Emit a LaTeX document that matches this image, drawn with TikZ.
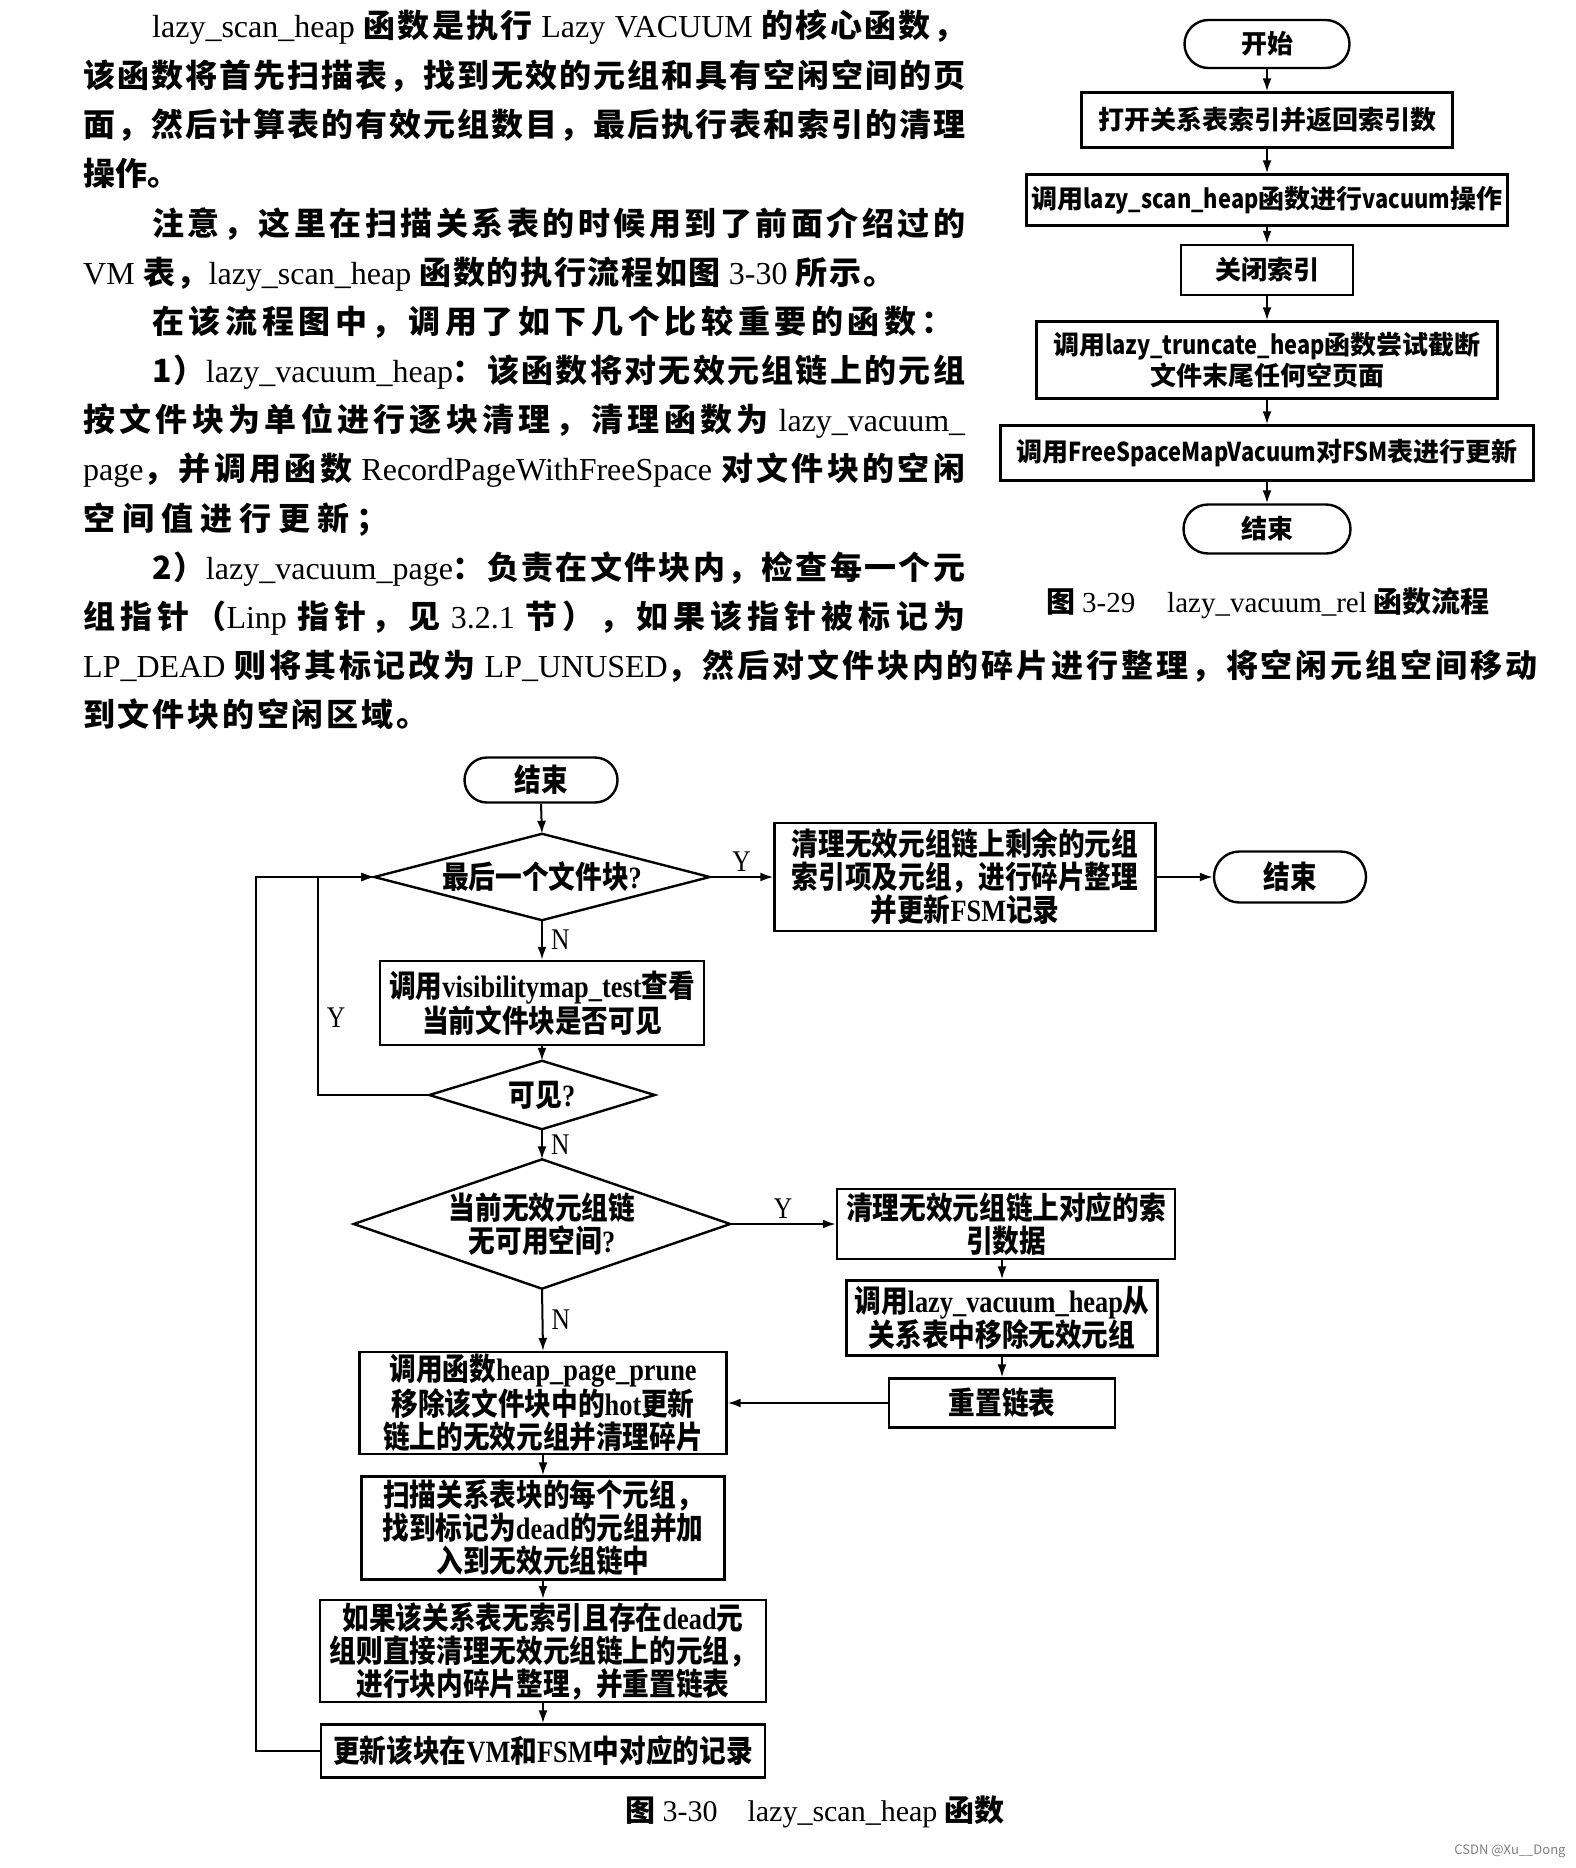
\documentclass[tikz,border=0pt]{standalone}
\usepackage{fontspec}
\setmainfont{Noto Sans CJK SC}
\newfontfamily\tm{Liberation Serif}
\newfontfamily\cjkc[FakeStretch=0.86]{Noto Sans CJK SC}
\newfontfamily\tmc[FakeStretch=0.85]{Liberation Serif}
\newfontfamily\rlat[FakeStretch=0.84]{Noto Sans CJK SC}
\usetikzlibrary{shapes.misc,arrows.meta}
% CJK characters get their own interchar class, so that lines can be justified
\newXeTeXintercharclass\cjkcls
\newcount\cjkcnt
\cjkcnt="3000
\loop \XeTeXcharclass\cjkcnt=\cjkcls \advance\cjkcnt by 1 \ifnum\cjkcnt<"3040 \repeat
\cjkcnt="4E00
\loop \XeTeXcharclass\cjkcnt=\cjkcls \advance\cjkcnt by 1 \ifnum\cjkcnt<"A000 \repeat
\cjkcnt="FF00
\loop \XeTeXcharclass\cjkcnt=\cjkcls \advance\cjkcnt by 1 \ifnum\cjkcnt<"FFF0 \repeat
\XeTeXinterchartokenstate=1
\newcommand\cjkglue{\hskip0pt plus 0.2em\relax}
\XeTeXinterchartoks\cjkcls\cjkcls{\cjkglue}
\XeTeXinterchartoks 0 \cjkcls{\cjkglue}
\XeTeXinterchartoks\cjkcls 0 {\cjkglue}
\newcommand\tx[1]{{\tm\mdseries #1}}
\newcommand\bl[1]{{\tmc #1}}
\newcommand\rl[1]{{\rlat #1}}
\newcommand\parline[4]{\node[anchor=base west, inner sep=0pt, font=\bfseries\fontsize{32}{32}\selectfont] (#1) at (#2) {\hbox to #3pt{#4}};}
\tikzset{
  bx/.style={draw, line width=2.4pt, inner sep=2pt, align=center},
  term/.style={draw, rounded rectangle, line width=2.4pt, inner sep=2pt},
  dia/.style={inner sep=0pt, align=center},
  conn/.style={line width=2pt, -{Latex[length=13pt,width=9pt]}},
  lbl/.style={font=\tmc\fontsize{30}{30}\selectfont, inner sep=0pt},
  rc/.style={font=\bfseries\fontsize{26}{31}\selectfont},
  bc/.style={font=\cjkc\bfseries\fontsize{31}{33}\selectfont},
}
\begin{document}
\begin{tikzpicture}[x=1pt,y=-1pt]
\useasboundingbox (0,0) rectangle (1576,1868);
\fill[white] (0,0) rectangle (1576,1868);

% ---------- paragraph ----------
\parline{p1}{152,38}{813}{\tx{lazy\_scan\_heap} 函数是执行 \tx{Lazy VACUUM} 的核心函数，}
\parline{p2}{83,87}{882}{该函数将首先扫描表，找到无效的元组和具有空闲空间的页}
\parline{p3}{83,136}{882}{面，然后计算表的有效元组数目，最后执行表和索引的清理}
\parline{p4}{83,185}{100}{操作。\hfil}
\parline{p5}{152,235}{813}{注意，这里在扫描关系表的时候用到了前面介绍过的}
\parline{p6}{83,284}{812}{\tx{VM} 表，\tx{lazy\_scan\_heap} 函数的执行流程如图 \tx{3-30} 所示。}
\parline{p7}{152,333}{801}{在该流程图中，调用了如下几个比较重要的函数：}
\parline{p8}{152,382}{813}{1）\tx{lazy\_vacuum\_heap}：该函数将对无效元组链上的元组}
\parline{p9}{83,431}{882}{按文件块为单位进行逐块清理，清理函数为 \tx{lazy\_vacuum\_}}
\parline{p10}{83,480}{882}{\tx{page}，并调用函数 \tx{RecordPageWithFreeSpace} 对文件块的空闲}
\parline{p11}{83,530}{305}{空间值进行更新；}
\parline{p12}{152,579}{813}{2）\tx{lazy\_vacuum\_page}：负责在文件块内，检查每一个元}
\parline{p13}{83,628}{882}{组指针（\tx{Linp} 指针，见 \tx{3.2.1} 节），如果该指针被标记为}
\parline{p14}{83,677}{1454}{\tx{LP\_DEAD} 则将其标记改为 \tx{LP\_UNUSED}，然后对文件块内的碎片进行整理，将空闲元组空间移动}
\parline{p15}{83,726}{345}{到文件块的空闲区域。}

% ---------- figure 3-29 ----------
\node[term, rc, minimum width=169pt, minimum height=48pt] (s0) at (1267,44) {开始};
\node[bx, rc, minimum width=371pt, minimum height=55pt] (s1) at (1267,120) {打开关系表索引并返回索引数};
\node[bx, rc, minimum width=481pt, minimum height=51pt] (s2) at (1267,200) {调用\rl{lazy\_scan\_heap}函数进行\rl{vacuum}操作};
\node[bx, rc, minimum width=172pt, minimum height=50pt] (s3) at (1267,270) {关闭索引};
\node[bx, rc, minimum width=461pt, minimum height=77pt] (s4) at (1267,360) {调用\rl{lazy\_truncate\_heap}函数尝试截断\\文件末尾任何空页面};
\node[bx, rc, minimum width=533pt, minimum height=55pt] (s5) at (1267,453) {调用\rl{FreeSpaceMapVacuum}对\rl{FSM}表进行更新};
\node[term, rc, minimum width=171pt, minimum height=49pt] (s6) at (1267,529) {结束};
\draw[conn] (s0.south) -- (s1.north);
\draw[conn] (s1.south) -- (s2.north);
\draw[conn] (s2.south) -- (s3.north);
\draw[conn] (s3.south) -- (s4.north);
\draw[conn] (s4.south) -- (s5.north);
\draw[conn] (s5.south) -- (s6.north);
\node[font=\fontsize{29}{29}\selectfont, inner sep=0pt] (cap1) at (1268,603) {\textbf{图} \tx{3-29}\hspace{1.1em}\tx{lazy\_vacuum\_rel} \textbf{函数流程}};

% ---------- figure 3-30 ----------
\node[term, bc, minimum width=157pt, minimum height=45pt] (t1) at (541,780) {结束};
\node[dia, bc, minimum width=335pt, minimum height=86pt] (d1) at (542,877) {最后一个文件块\bl{?}};
\draw[line width=2.4pt] (d1.north) -- (d1.east) -- (d1.south) -- (d1.west) -- cycle;
\node[bx, bc, minimum width=381pt, minimum height=108pt] (r1) at (965,877) {清理无效元组链上剩余的元组\\索引项及元组，进行碎片整理\\并更新\bl{FSM}记录};
\node[term, bc, minimum width=156pt, minimum height=51pt] (t2) at (1290,877) {结束};
\node[bx, bc, minimum width=324pt, minimum height=84pt] (b2) at (542,1003) {调用\bl{visibilitymap\_test}查看\\当前文件块是否可见};
\node[dia, bc, minimum width=225pt, minimum height=68pt] (d2) at (542,1095) {可见\bl{?}};
\draw[line width=2.4pt] (d2.north) -- (d2.east) -- (d2.south) -- (d2.west) -- cycle;
\node[dia, bc, minimum width=376pt, minimum height=129pt] (d3) at (542,1224) {当前无效元组链\\无可用空间\bl{?}};
\draw[line width=2.4pt] (d3.north) -- (d3.east) -- (d3.south) -- (d3.west) -- cycle;
\node[bx, bc, minimum width=338pt, minimum height=70pt] (r3) at (1006,1224) {清理无效元组链上对应的索\\引数据};
\node[bx, bc, minimum width=311pt, minimum height=75pt] (r4) at (1002,1318) {调用\bl{lazy\_vacuum\_heap}从\\关系表中移除无效元组};
\node[bx, bc, minimum width=226pt, minimum height=49pt] (r5) at (1002,1403) {重置链表};
\node[bx, bc, minimum width=367pt, minimum height=100pt] (b6) at (543,1403) {调用函数\bl{heap\_page\_prune}\\移除该文件块中的\bl{hot}更新\\链上的无效元组并清理碎片};
\node[bx, bc, minimum width=363pt, minimum height=103pt] (b7) at (543,1528) {扫描关系表块的每个元组，\\找到标记为\bl{dead}的元组并加\\入到无效元组链中};
\node[bx, bc, minimum width=446pt, minimum height=99pt] (b8) at (543,1651) {如果该关系表无索引且存在\bl{dead}元\\组则直接清理无效元组链上的元组，\\进行块内碎片整理，并重置链表};
\node[bx, bc, minimum width=444pt, minimum height=53pt] (b9) at (543,1751) {更新该块在\bl{VM}和\bl{FSM}中对应的记录};

\coordinate (lp1) at (318,877);
\coordinate (lp2) at (256,877);

\draw[conn] (t1.south) -- (d1.north);
\draw[conn] (d1.east) -- (r1.west) node[lbl, above=5pt, midway] (ly0) {Y};
\draw[conn] (r1.east) -- (t2.west);
\draw[conn] (d1.south) -- (b2.north) node[lbl, right=8pt, midway] (ln1) {N};
\draw[conn] (b2.south) -- (d2.north);
\draw[conn] (d2.west) -| (lp1) -- (d1.west);
\node[lbl] (ly1) at (336,1018) {Y};
\draw[conn] (b9.west) -| (lp2) -- (d1.west);
\draw[conn] (d2.south) -- (d3.north) node[lbl, right=8pt, midway] (ln2) {N};
\draw[conn] (d3.east) -- (r3.west) node[lbl, above=5pt, midway] (ly2) {Y};
\draw[conn] (r3.south -| r4.north) -- (r4.north);
\draw[conn] (r4.south) -- (r5.north);
\draw[conn] (r5.west) -- (b6.east);
\draw[conn] (d3.south) -- (b6.north) node[lbl, right=8pt, midway] (ln3) {N};
\draw[conn] (b6.south) -- (b7.north);
\draw[conn] (b7.south) -- (b8.north);
\draw[conn] (b8.south) -- (b9.north);

\node[font=\fontsize{30}{30}\selectfont, inner sep=0pt] (cap2) at (815,1812) {\textbf{图} \tx{3-30}\hspace{1em}\tx{lazy\_scan\_heap} \textbf{函数}};
\node[font=\fontsize{13}{13}\selectfont, text=gray, inner sep=0pt] (wm) at (1510,1851) {CSDN @Xu\_\_Dong};
\end{tikzpicture}
\end{document}
